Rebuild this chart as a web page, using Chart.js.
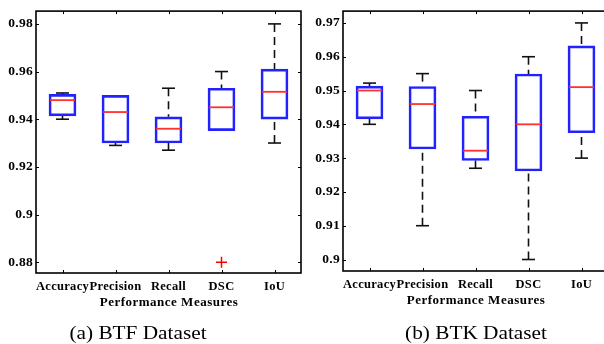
<!DOCTYPE html>
<html><head><meta charset="utf-8">
<script src="https://cdn.jsdelivr.net/npm/chart.js@4.4.0/dist/chart.umd.min.js"></script>
<style>
html,body{margin:0;padding:0;background:#fff;width:604px;height:344px;overflow:hidden;position:relative;}
.c{position:absolute;top:0;width:310px;height:344px;}
.t{position:absolute;font-family:"Liberation Serif","Times New Roman",serif;white-space:nowrap;color:#000;line-height:1;}
.ax{font-weight:bold;font-size:13px;letter-spacing:0.5px;transform:translate(-50%,-50%);}
.cap{font-size:19px;transform:translate(-50%,-50%) scaleX(1.12);}
</style></head><body>
<div class="c" style="left:0"><canvas id="a" width="310" height="344"></canvas></div>
<div class="c" style="left:310px"><canvas id="b" width="310" height="344"></canvas></div>
<div class="t ax" style="left:169px;top:301px">Performance Measures</div>
<div class="t ax" style="left:476px;top:299px">Performance Measures</div>
<div class="t cap" style="left:138px;top:332px">(a) BTF Dataset</div>
<div class="t cap" style="left:476px;top:332px">(b) BTK Dataset</div>
<script>
const categories = ['Accuracy', 'Precision', 'Recall', 'DSC', 'IoU'];

// (a) BTF Dataset
const btfMin    = [0.940, 0.929, 0.927, 0.935, 0.930];
const btfQ1     = [0.9414, 0.930, 0.930, 0.9352, 0.940];
const btfMedian = [0.948, 0.943, 0.936, 0.945, 0.9515];
const btfQ3     = [0.9504, 0.950, 0.941, 0.953, 0.961];
const btfMax    = [0.951, 0.950, 0.953, 0.960, 0.980];
const btfOutliers = [null, null, null, 0.880, null];
const btfYTicks = [0.88, 0.90, 0.92, 0.94, 0.96, 0.98];
const btfYTickLabels = ['0.88', '0.9', '0.92', '0.94', '0.96', '0.98'];

// (b) BTK Dataset
const btkMin    = [0.940, 0.910, 0.927, 0.900, 0.930];
const btkQ1     = [0.9416, 0.9327, 0.9293, 0.9262, 0.9375];
const btkMedian = [0.950, 0.946, 0.9322, 0.940, 0.951];
const btkQ3     = [0.9513, 0.9512, 0.9424, 0.9549, 0.9632];
const btkMax    = [0.9522, 0.955, 0.950, 0.960, 0.970];
const btkOutliers = [null, null, null, null, null];
const btkYTicks = [0.90, 0.91, 0.92, 0.93, 0.94, 0.95, 0.96, 0.97];
const btkYTickLabels = ['0.9', '0.91', '0.92', '0.93', '0.94', '0.95', '0.96', '0.97'];

const FONT = '"Liberation Serif", "Times New Roman", serif';

const boxExtras = {
  id: 'boxExtras',
  beforeUpdate(chart) { chart.ctx.letterSpacing = '0.3px'; },
  beforeDraw(chart) { chart.ctx.letterSpacing = '0.3px'; },
  beforeDatasetsDraw(chart, args, o) {
    const ctx = chart.ctx, x = chart.scales.x, y = chart.scales.y;
    ctx.save();
    ctx.strokeStyle = '#111';
    ctx.lineWidth = 1.6;
    const ln = (x1, y1, x2, y2) => { ctx.beginPath(); ctx.moveTo(x1, y1); ctx.lineTo(x2, y2); ctx.stroke(); };
    o.min.forEach((mn, i) => {
      const px = x.getPixelForValue(i);
      const yMin = y.getPixelForValue(mn), yMax = y.getPixelForValue(o.max[i]);
      const yQ1 = y.getPixelForValue(o.q1[i]), yQ3 = y.getPixelForValue(o.q3[i]);
      // whiskers and caps lying on the box edge are hidden by the box, as in the original
      if (yQ3 - yMax > 1.2) {
        ctx.setLineDash([8, 5]);
        ln(px, yMax, px, yQ3);
        ctx.setLineDash([]);
        ln(px - 6.5, yMax, px + 6.5, yMax);
      }
      if (yMin - yQ1 > 1.2) {
        ctx.setLineDash([8, 5]);
        ln(px, yMin, px, yQ1);
        ctx.setLineDash([]);
        ln(px - 6.5, yMin, px + 6.5, yMin);
      }
    });
    ctx.restore();
  },
  afterDatasetsDraw(chart, args, o) {
    const ctx = chart.ctx, y = chart.scales.y;
    const meta = chart.getDatasetMeta(0);
    ctx.save();
    ctx.strokeStyle = '#ff3030';
    ctx.lineWidth = 1.8;
    o.median.forEach((m, i) => {
      const bar = meta.data[i];
      const py = y.getPixelForValue(m);
      ctx.beginPath();
      ctx.moveTo(bar.x - bar.width / 2 + 1, py);
      ctx.lineTo(bar.x + bar.width / 2 - 1, py);
      ctx.stroke();
    });
    ctx.restore();
  },
  afterDraw(chart) {
    const ctx = chart.ctx, a = chart.chartArea, x = chart.scales.x, y = chart.scales.y;
    ctx.save();
    ctx.strokeStyle = '#000';
    ctx.lineWidth = 1;
    y.ticks.forEach(t => {
      const py = Math.round(y.getPixelForValue(t.value)) + 0.5;
      ctx.beginPath(); ctx.moveTo(a.left, py); ctx.lineTo(a.left + 3, py); ctx.stroke();
      ctx.beginPath(); ctx.moveTo(a.right, py); ctx.lineTo(a.right - 3, py); ctx.stroke();
    });
    x.ticks.forEach((t, i) => {
      const px = Math.round(x.getPixelForValue(i)) + 0.5;
      ctx.beginPath(); ctx.moveTo(px, a.bottom); ctx.lineTo(px, a.bottom - 3); ctx.stroke();
      ctx.beginPath(); ctx.moveTo(px, a.top); ctx.lineTo(px, a.top + 3); ctx.stroke();
    });
    ctx.lineWidth = 1.6;
    ctx.strokeRect(a.left, a.top, a.right - a.left, a.bottom - a.top);
    ctx.restore();
  }
};

function makeChart(id, q1, q3, med, mn, mx, outl, yMin, yMax, yTicks, yTickLabels, pad, yW, xH, lblPad) {
  return new Chart(document.getElementById(id), {
    type: 'bar',
    data: {
      labels: categories,
      datasets: [
        {
          data: q1.map((v, i) => [v, q3[i]]),
          backgroundColor: 'rgba(255,255,255,0)',
          borderColor: '#2222ff',
          borderWidth: 2,
          borderSkipped: false,
          barThickness: 27,
          order: 2
        },
        {
          type: 'line',
          data: outl,
          showLine: false,
          pointStyle: 'cross',
          pointRadius: 5.5,
          borderColor: '#ff0000',
          backgroundColor: '#ff0000',
          pointBorderWidth: 1.5,
          order: 1
        }
      ]
    },
    options: {
      responsive: false,
      animation: false,
      events: [],
      layout: { padding: pad },
      plugins: {
        legend: { display: false },
        tooltip: { enabled: false },
        boxExtras: { q1: q1, q3: q3, median: med, min: mn, max: mx }
      },
      scales: {
        x: {
          offset: true,
          grid: { display: false, drawTicks: false },
          border: { display: false },
          afterFit: s => { s.height = xH; },
          ticks: {
            autoSkip: false, maxRotation: 0, minRotation: 0, padding: lblPad,
            color: '#000', font: { family: FONT, size: 12.5, weight: 'bold' }
          }
        },
        y: {
          min: yMin, max: yMax,
          grid: { display: false, drawTicks: false },
          border: { display: false },
          afterFit: s => { s.width = yW; },
          afterBuildTicks: s => { s.ticks = yTicks.map(v => ({ value: v })); },
          ticks: {
            padding: 3,
            color: '#000', font: { family: FONT, size: 13.5, weight: 'bold' },
            callback: (v, i) => yTickLabels[i]
          }
        }
      }
    },
    plugins: [boxExtras]
  });
}

makeChart('a', btfQ1, btfQ3, btfMedian, btfMin, btfMax, btfOutliers,
  0.87545, 0.98537, btfYTicks, btfYTickLabels,
  { top: 7, right: 9, left: 0, bottom: 0 }, 36, 71, 6);
makeChart('b', btkQ1, btkQ3, btkMedian, btkMin, btkMax, btkOutliers,
  0.8966, 0.9735, btkYTicks, btkYTickLabels,
  { top: 8, right: 12, left: 0, bottom: 0 }, 33, 73, 6);
</script>
</body></html>
